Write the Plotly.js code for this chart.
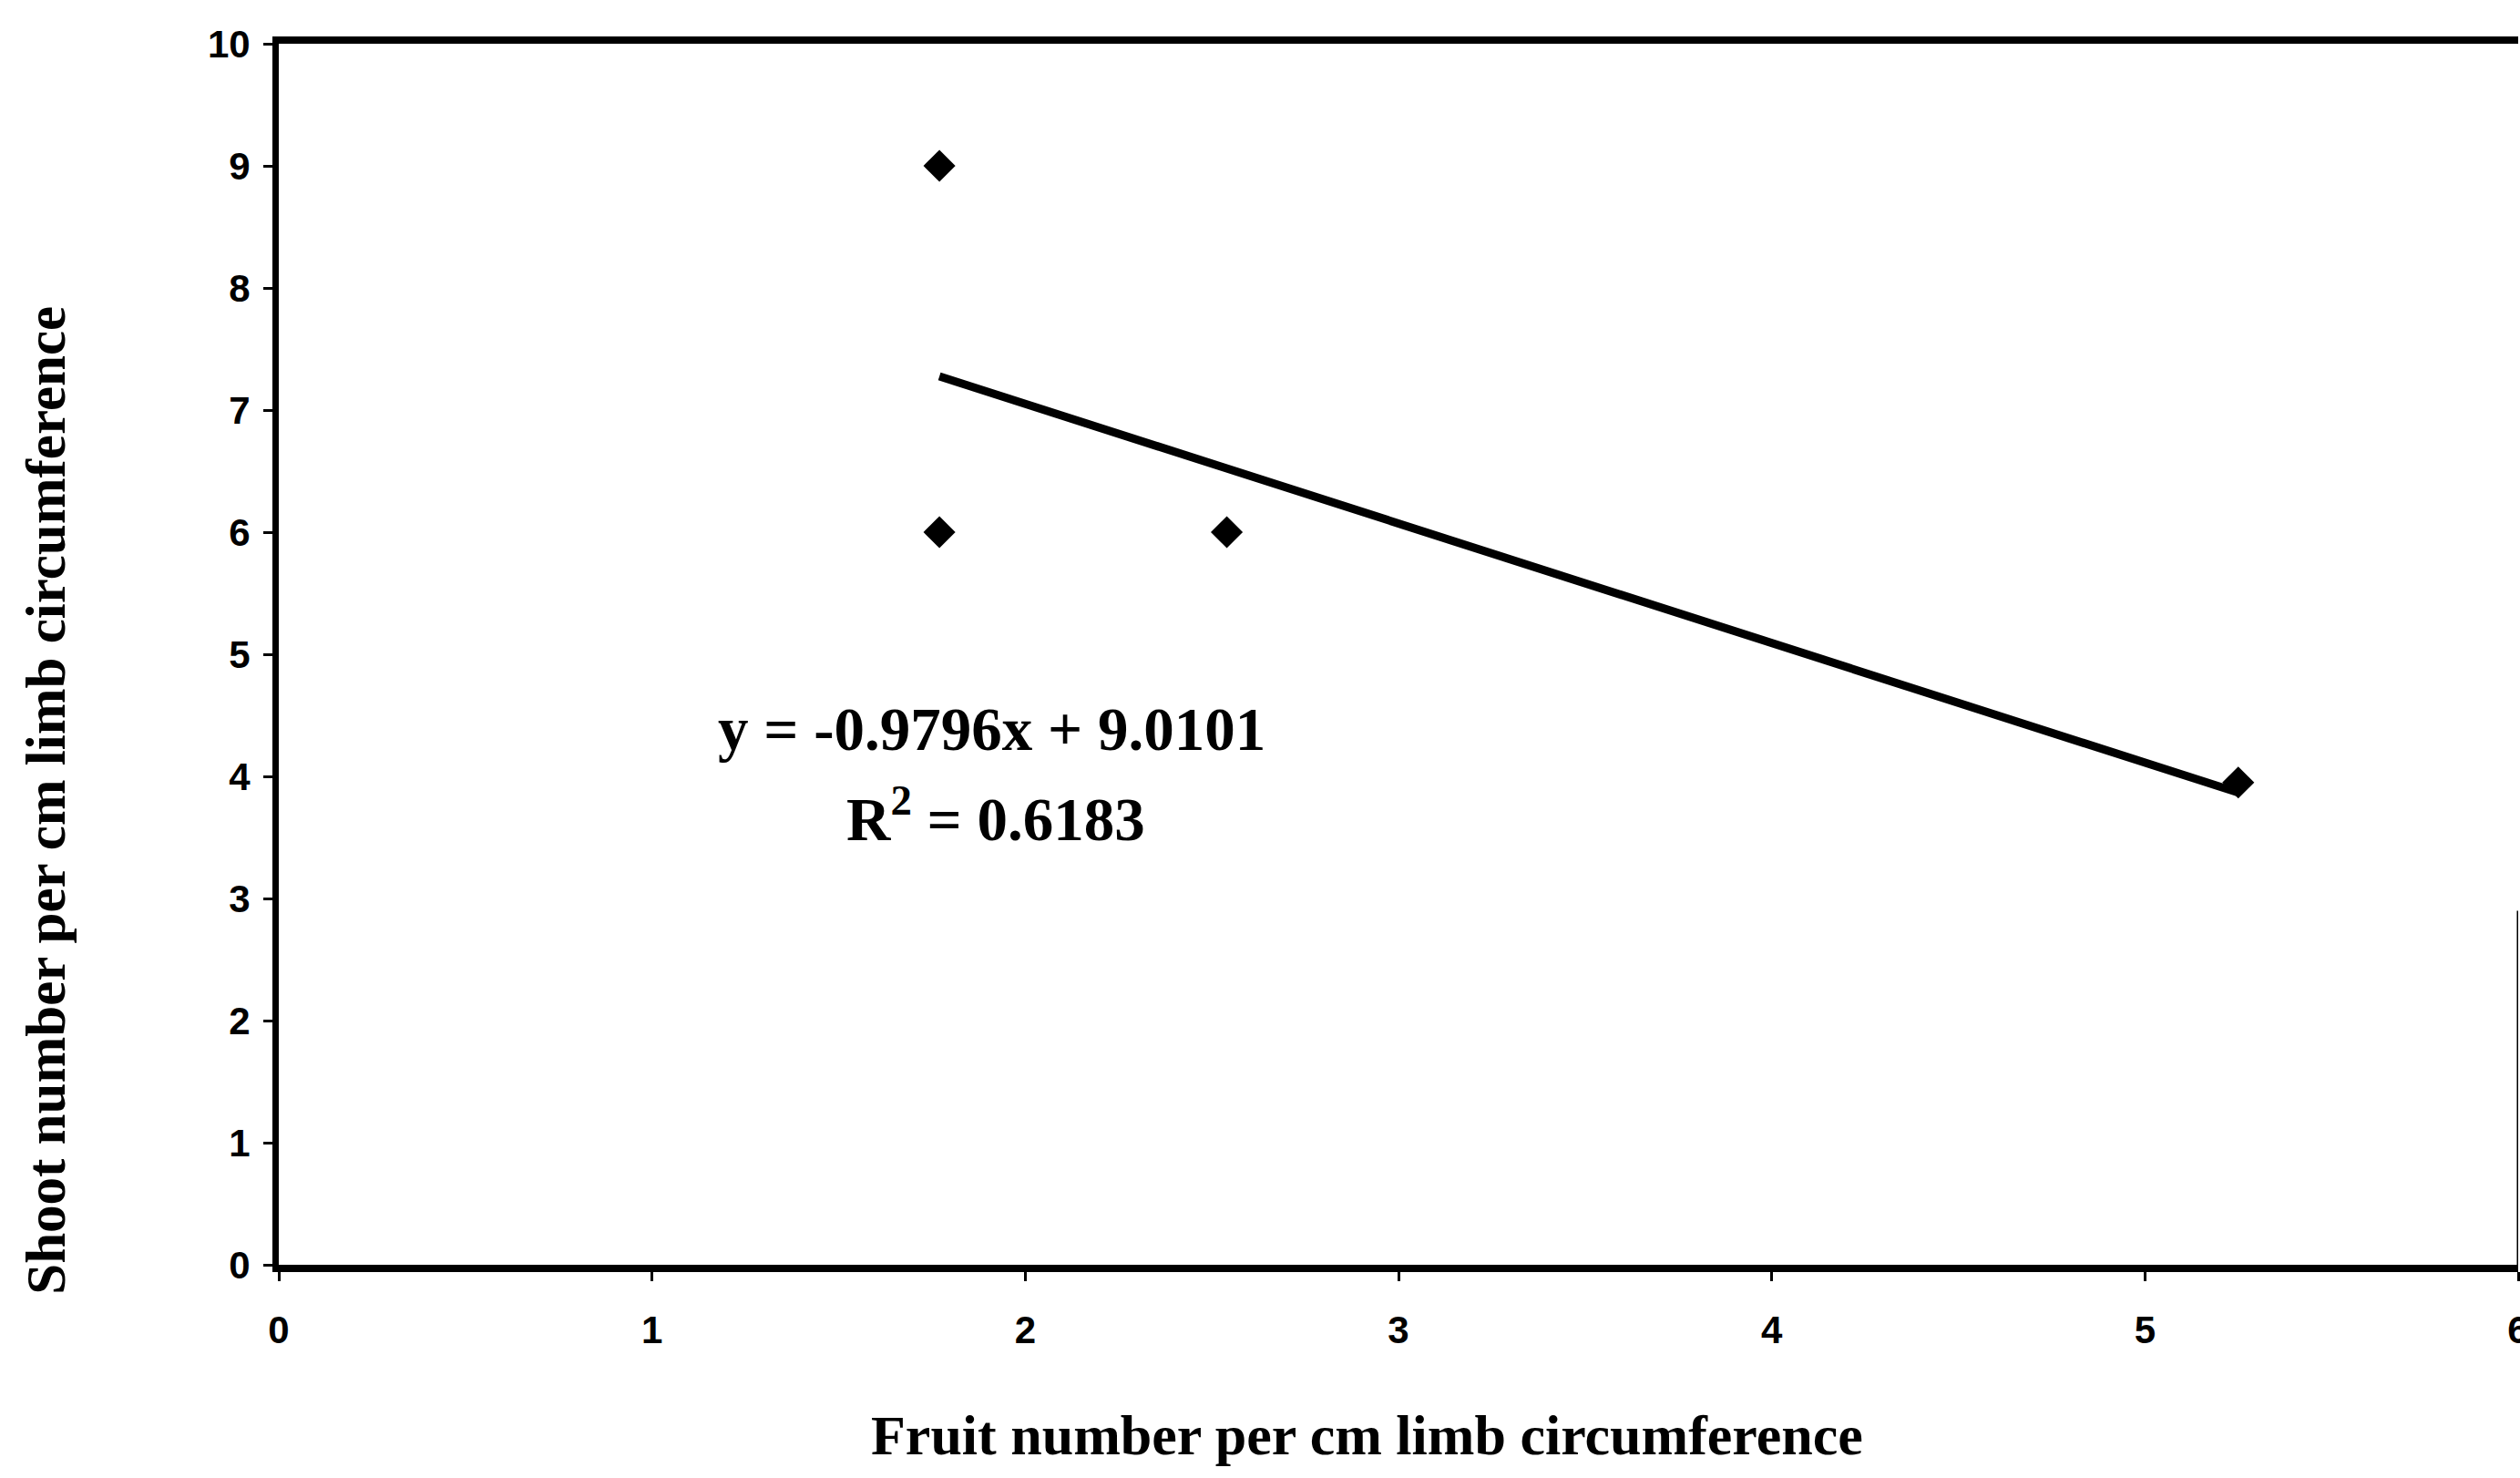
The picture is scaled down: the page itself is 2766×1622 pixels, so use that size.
<!DOCTYPE html>
<html>
<head>
<meta charset="utf-8">
<script src="https://cdn.plot.ly/plotly-3.0.1.min.js"></script>
<style>
  html, body { margin: 0; padding: 0; background: #ffffff; }
  #chart { width: 2766px; height: 1622px; }
</style>
</head>
<body>
<div id="chart"></div>
<script>
// Observations: fruit number vs. shoot number, both per cm of limb circumference
const fruitPerCm  = [1.77, 1.77, 2.54, 5.25];
const shootsPerCm = [9, 6, 6, 3.95];

// Linear trendline as reported on the chart
const fitSlope = -0.9796;
const fitIntercept = 9.0101;
const fitR2 = 0.6183;

// Axis ticks
const xTickVals = [0, 1, 2, 3, 4, 5, 6];
const yTickVals = [0, 1, 2, 3, 4, 5, 6, 7, 8, 9, 10];

const xTitle = 'Fruit number per cm limb circumference';
const yTitle = 'Shoot number per cm limb circumference';

const xMin = Math.min(...fruitPerCm);
const xMax = Math.max(...fruitPerCm);
const fitX = [xMin, xMax];
const fitY = fitX.map(x => fitSlope * x + fitIntercept);

const serif = '"Liberation Serif", "Times New Roman", serif';
const sans = '"Liberation Sans", Arial, sans-serif';

const traces = [
  {
    type: 'scatter',
    mode: 'lines',
    x: fitX,
    y: fitY,
    line: { color: '#000000', width: 9 },
    hoverinfo: 'skip',
    showlegend: false
  },
  {
    type: 'scatter',
    mode: 'markers',
    x: fruitPerCm,
    y: shootsPerCm,
    marker: { symbol: 'diamond', size: 27, color: '#000000' },
    showlegend: false
  }
];

const eqText = 'y = ' + fitSlope.toFixed(4) + 'x + ' + fitIntercept.toFixed(4);
const r2Text = 'R<sup>2</sup> = ' + fitR2.toFixed(4);

const layout = {
  width: 2766,
  height: 1622,
  paper_bgcolor: '#ffffff',
  plot_bgcolor: '#ffffff',
  margin: { l: 306, r: 2, t: 48, b: 234, pad: 0 },
  showlegend: false,
  xaxis: {
    range: [0, 6],
    tickvals: xTickVals,
    ticktext: xTickVals.map(String),
    showgrid: false,
    zeroline: false,
    showline: true,
    linecolor: '#000000',
    linewidth: 8,
    mirror: true,
    ticks: 'outside',
    ticklen: 10,
    tickwidth: 3,
    tickcolor: '#000000',
    ticklabelstandoff: 18,
    ticklabeloverflow: 'allow',
    tickfont: { family: sans, size: 42, color: '#000000', weight: 'bold' }
  },
  yaxis: {
    range: [0, 10],
    tickvals: yTickVals,
    ticktext: yTickVals.map(String),
    showgrid: false,
    zeroline: false,
    showline: true,
    linecolor: '#000000',
    linewidth: 7,
    mirror: false,
    ticks: 'outside',
    ticklen: 10,
    tickwidth: 3,
    tickcolor: '#000000',
    ticklabelstandoff: 6,
    ticklabeloverflow: 'allow',
    tickfont: { family: sans, size: 42, color: '#000000', weight: 'bold' }
  },
  shapes: [
    {
      type: 'line', xref: 'x', yref: 'y',
      x0: 6, x1: 6, y0: 0, y1: 2.9,
      line: { color: '#000000', width: 3 }
    }
  ],
  annotations: [
    {
      // x-axis title, slightly left of the axis midpoint
      xref: 'paper', yref: 'paper', x: 0.486, y: 0,
      yshift: -187,
      text: xTitle, showarrow: false,
      xanchor: 'center', yanchor: 'middle',
      font: { family: serif, size: 62, color: '#000000', weight: 'bold' }
    },
    {
      // y-axis title, sitting a little below the axis midpoint
      xref: 'paper', yref: 'paper', x: 0, y: 0.38,
      xshift: -255,
      text: yTitle, showarrow: false, textangle: -90,
      xanchor: 'center', yanchor: 'middle',
      font: { family: serif, size: 61, color: '#000000', weight: 'bold' }
    },
    {
      xref: 'x', yref: 'y', x: 1.91, y: 4.39,
      text: eqText, showarrow: false,
      xanchor: 'center', yanchor: 'middle',
      font: { family: serif, size: 67, color: '#000000', weight: 'bold' }
    },
    {
      xref: 'x', yref: 'y', x: 1.92, y: 3.69,
      text: r2Text, showarrow: false,
      xanchor: 'center', yanchor: 'middle',
      font: { family: serif, size: 67, color: '#000000', weight: 'bold' }
    }
  ]
};

Plotly.newPlot('chart', traces, layout, { displayModeBar: false, staticPlot: true });
</script>
</body>
</html>
